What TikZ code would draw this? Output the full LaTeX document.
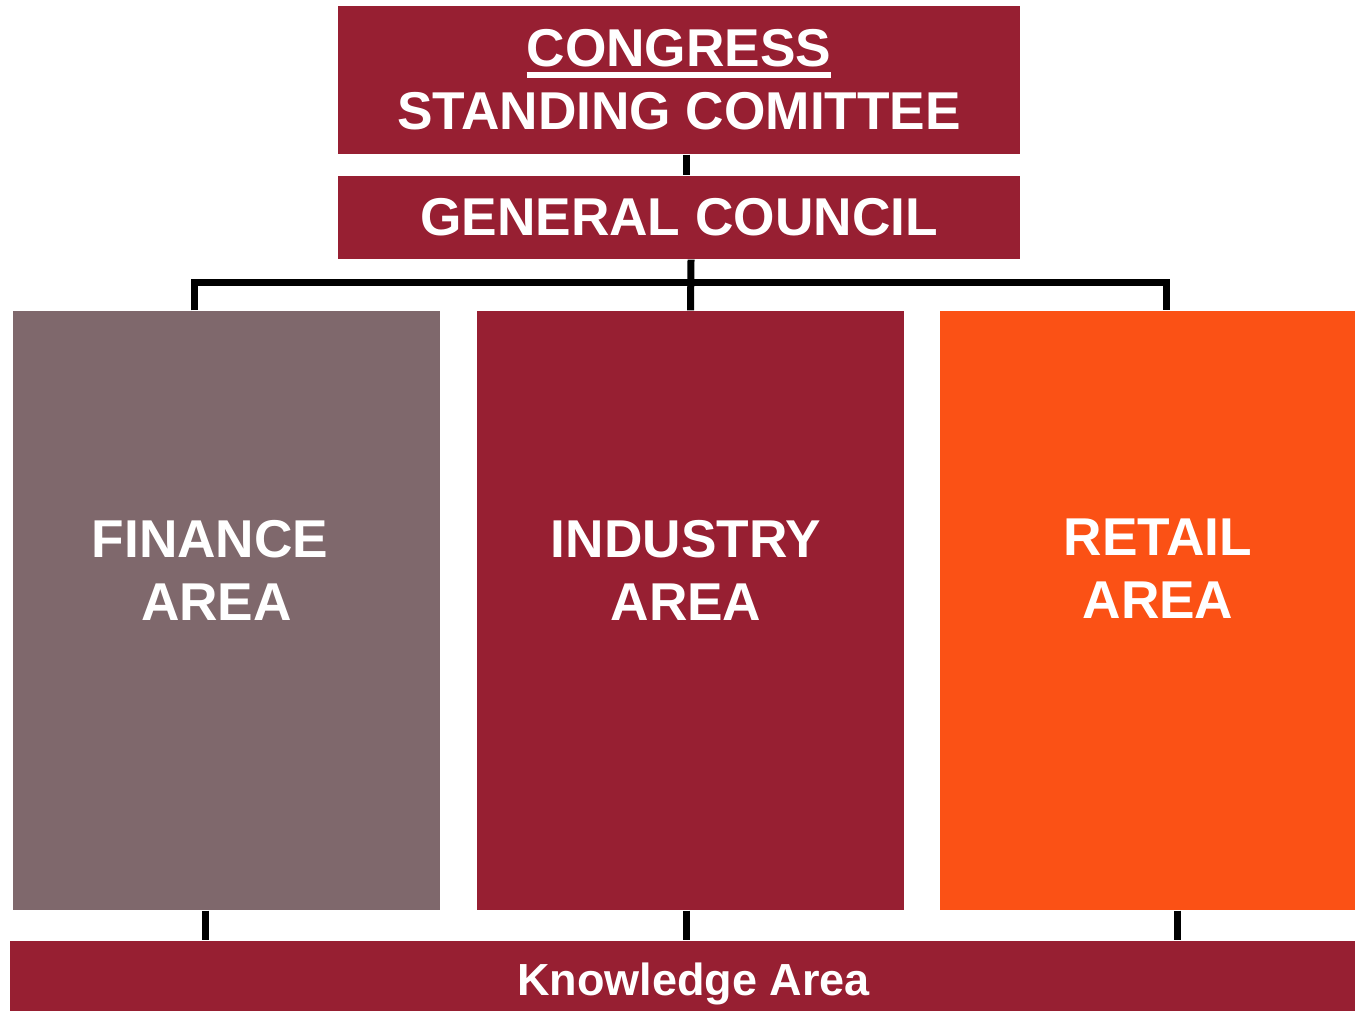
\documentclass[tikz,border=0pt]{standalone}
\usepackage{fontspec}
\setmainfont{Liberation Sans}
\usepackage{tikz}
\usepackage{xcolor}
\definecolor{wine}{RGB}{151,31,50}
\definecolor{mauve}{RGB}{127,104,108}
\definecolor{blaze}{RGB}{251,81,21}
\newcommand{\thickul}[1]{\setbox0\hbox{#1}\rlap{\rule[-3.1pt]{\wd0}{1.6pt}}\box0}
\tikzset{
	box/.style={rectangle,inner sep=0pt,text=white,font=\bfseries\fontsize{15.15}{18}\selectfont,align=center},
	area/.style={box,minimum width=4.27cm,minimum height=5.99cm},
	link/.style={line width=0.07cm,black}
}
\begin{document}
\begin{tikzpicture}
			\useasboundingbox (0,0) rectangle (13.55,-10.11);
			\node[box,fill=wine,minimum width=6.82cm,minimum height=1.48cm] (congress) at (6.79,-0.80) {\thickul{CONGRESS}\\STANDING COMITTEE};
			\node[box,fill=wine,minimum width=6.82cm,minimum height=0.83cm] (council) at (6.79,-2.175) {GENERAL COUNCIL};
			\node[area,fill=mauve] (finance) at (2.265,-6.105) {};
			\node[area,fill=wine] (industry) at (6.905,-6.105) {};
			\node[area,fill=blaze,minimum width=4.15cm] (retail) at (11.475,-6.105) {};
			\node[box,fill=wine,minimum width=13.45cm,minimum height=0.70cm] (know) at (6.825,-9.76) {};
			% area labels
			\node[box] (financetxt) at (2.10,-5.705) {FINANCE\\\hspace*{0.13cm}AREA};
			\node[box] (industrytxt) at (6.86,-5.705) {INDUSTRY\\AREA};
			\node[box] (retailtxt) at (11.58,-5.69) {RETAIL\\AREA};
			\node[box,font=\bfseries\fontsize{12.8}{15}\selectfont,text depth=0pt] (knowtxt) at (6.935,-9.79) {Knowledge Area};
			% connectors
			\coordinate (busL) at (1.945,-2.83);
			\coordinate (busR) at (11.66,-2.83);
			\draw[link] ([xshift=0.07cm]congress.south) -- ([xshift=0.07cm]council.north);
			\draw[link] ([xshift=0.12cm]council.south) -- (industry.north);
			\draw[link] (finance.north -| busL) -- (busL) -- (busR) -- (retail.north -| busR);
			\draw[link] ([xshift=-0.215cm]finance.south) coordinate (fb) -- (fb |- know.north);
			\draw[link] ([xshift=-0.045cm]industry.south) coordinate (ib) -- (ib |- know.north);
			\draw[link] ([xshift=0.295cm]retail.south) coordinate (rb) -- (rb |- know.north);
		\end{tikzpicture}
\end{document}
